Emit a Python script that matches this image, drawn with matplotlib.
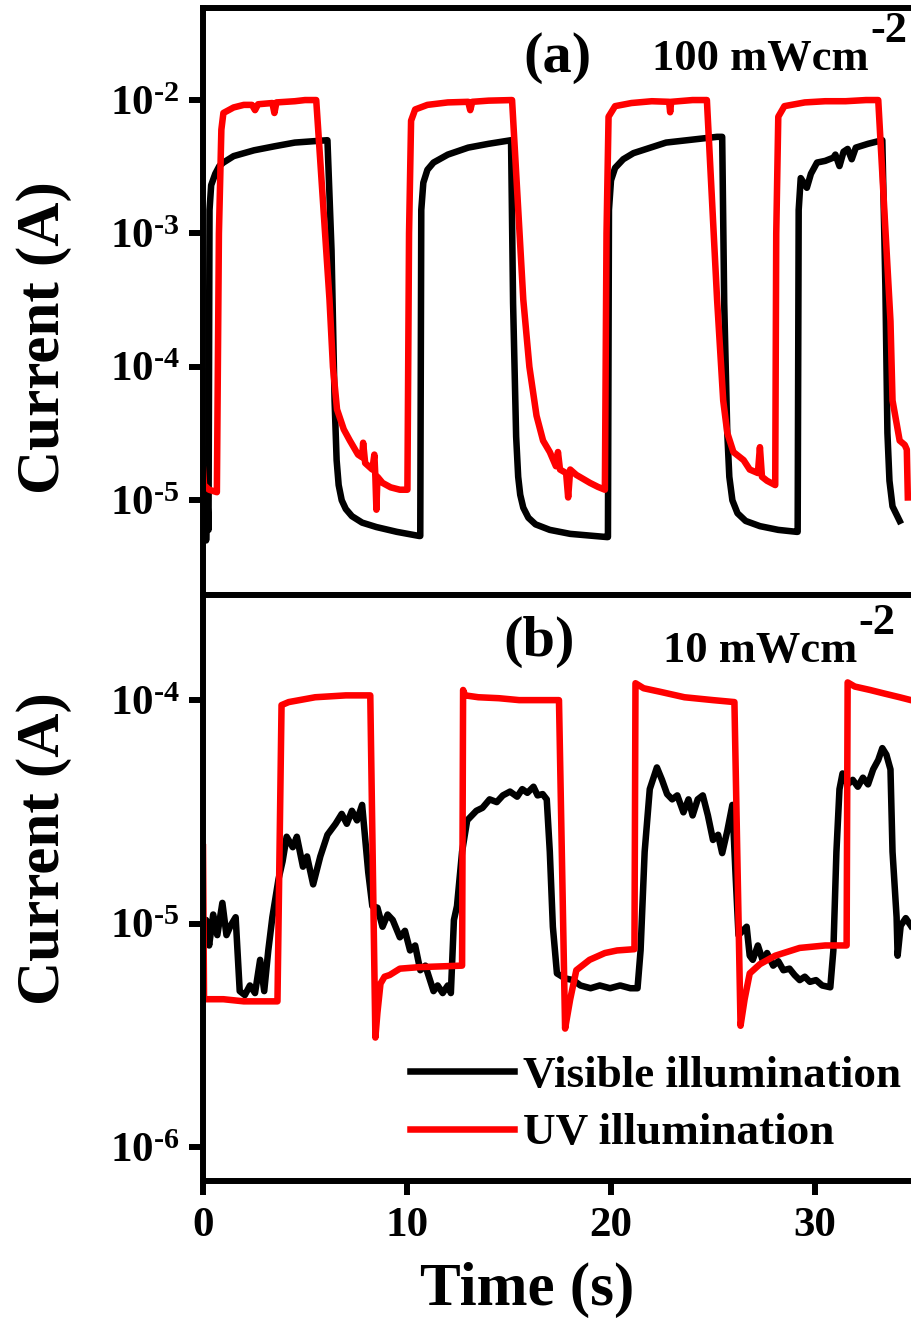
import matplotlib
matplotlib.use("Agg")
import matplotlib.pyplot as plt

# ---- data ----
# panel (a), 100 mW/cm^2
a_vis_t = [0.00, 0.08, 0.15, 0.22, 0.27, 0.32, 0.40, 0.60, 0.80, 1.0, 1.5, 2.5, 3.5, 4.5, 6.10,
           6.30, 6.45, 6.55, 6.65, 6.80, 7.0, 7.3, 7.8, 8.5, 9.5, 10.60,
           10.65, 10.70, 10.80, 11.0, 11.3, 12.0, 13.0, 14.0, 15.10,
           15.20, 15.35, 15.45, 15.55, 15.70, 15.95, 16.3, 17.0, 18.0, 19.80,
           19.85, 19.90, 20.00, 20.20, 20.6, 21.1, 22.7, 25.2, 25.45,
           25.55, 25.70, 25.80, 25.95, 26.2, 26.6, 27.3, 28.2, 29.10,
           29.15, 29.20, 29.30, 29.6, 29.8, 30.1, 30.5, 30.9, 31.0, 31.2, 31.4, 31.6, 31.8, 32.0, 32.6, 33.3,
           33.45, 33.55, 33.65, 33.8, 34.15]
a_vis_i = [6e-6, 1.5e-5, 5e-6, 1.0e-5, 6e-6, 1.5e-3, 2.3e-3, 2.8e-3, 3.2e-3, 3.4e-3, 3.8e-3, 4.2e-3, 4.5e-3, 4.8e-3, 5.0e-3,
           7.5e-4, 5.6e-5, 2.0e-5, 1.3e-5, 1.0e-5, 8.6e-6, 7.6e-6, 6.8e-6, 6.3e-6, 5.8e-6, 5.4e-6,
           5.4e-6, 1.5e-3, 2.4e-3, 3.0e-3, 3.4e-3, 3.9e-3, 4.4e-3, 4.7e-3, 5.0e-3,
           3.0e-4, 3.0e-5, 1.5e-5, 1.1e-5, 8.8e-6, 7.4e-6, 6.6e-6, 6.0e-6, 5.6e-6, 5.3e-6,
           5.3e-6, 1.5e-3, 2.5e-3, 3.1e-3, 3.6e-3, 4.0e-3, 4.8e-3, 5.3e-3, 5.3e-3,
           3.0e-4, 3.2e-5, 1.5e-5, 1.0e-5, 8.0e-6, 7.0e-6, 6.4e-6, 6.0e-6, 5.8e-6,
           5.8e-6, 1.5e-3, 2.6e-3, 2.2e-3, 2.8e-3, 3.4e-3, 3.5e-3, 3.7e-3, 3.9e-3, 3.2e-3, 4.1e-3, 4.3e-3, 3.6e-3, 4.4e-3, 4.7e-3, 5.0e-3,
           4.0e-4, 3.2e-5, 1.4e-5, 9e-6, 7e-6]

a_uv_t = [0.00, 0.05, 0.30, 0.68,
          0.78, 0.90, 1.0, 1.5, 2.0, 2.4, 2.55, 2.7, 3.4, 3.5, 3.6, 4.5, 5.0, 5.55,
          6.20, 6.37, 6.57, 6.9, 7.2, 7.6, 7.8, 7.85, 7.95, 8.3, 8.4, 8.45, 8.5, 8.55, 8.8, 9.2, 9.65, 10.02,
          10.10, 10.20, 10.4, 11.0, 12.0, 13.0, 13.1, 13.2, 14.0, 15.15,
          15.70, 16.0, 16.35, 16.67, 17.0, 17.3, 17.4, 17.5, 17.8, 17.9, 18.0, 18.3, 18.97, 19.36, 19.70,
          19.78, 19.88, 20.2, 21.0, 22.0, 22.85, 22.9, 22.95, 24.0, 24.70,
          25.2, 25.5, 25.7, 26.0, 26.5, 26.8, 27.2, 27.3, 27.4, 27.65, 28.05,
          28.10, 28.20, 28.5, 29.5, 30.5, 31.5, 32.5, 33.10,
          33.70, 33.80, 34.15, 34.4, 34.5, 34.55]
a_uv_i = [1.7e-5, 1.3e-5, 1.2e-5, 1.15e-5,
          1.0e-3, 6.0e-3, 8.0e-3, 8.8e-3, 9.2e-3, 9.2e-3, 8.4e-3, 9.3e-3, 9.5e-3, 8.0e-3, 9.6e-3, 9.8e-3, 1.0e-2, 1.0e-2,
          3.2e-4, 1.0e-4, 4.8e-5, 3.4e-5, 2.8e-5, 2.2e-5, 2.1e-5, 2.7e-5, 1.9e-5, 1.7e-5, 2.2e-5, 1.5e-5, 8.5e-6, 1.5e-5, 1.35e-5, 1.25e-5, 1.2e-5, 1.2e-5,
          1.0e-3, 7.0e-3, 8.5e-3, 9.2e-3, 9.6e-3, 9.7e-3, 8.4e-3, 9.7e-3, 9.9e-3, 1.0e-2,
          3.2e-4, 1.0e-4, 4.3e-5, 2.8e-5, 2.3e-5, 1.8e-5, 2.3e-5, 1.7e-5, 1.6e-5, 1.05e-5, 1.7e-5, 1.55e-5, 1.35e-5, 1.26e-5, 1.2e-5,
          1.0e-3, 7.5e-3, 9.0e-3, 9.5e-3, 9.8e-3, 9.7e-3, 8.1e-3, 9.7e-3, 1.0e-2, 1.0e-2,
          3.2e-4, 5.6e-5, 3.2e-5, 2.3e-5, 2.0e-5, 1.7e-5, 1.6e-5, 2.5e-5, 1.5e-5, 1.4e-5, 1.3e-5,
          1.0e-3, 7.5e-3, 9.0e-3, 9.6e-3, 9.8e-3, 9.8e-3, 1.0e-2, 1.0e-2,
          2.2e-4, 5.6e-5, 2.8e-5, 2.6e-5, 2.4e-5, 1.05e-5]

# panel (b), 10 mW/cm^2
b_vis_t = [0.00, 0.15, 0.30, 0.50, 0.70, 0.95, 1.15, 1.35, 1.60, 1.80, 2.05, 2.30, 2.55, 2.80, 3.00, 3.20, 3.40,
           3.70, 3.90, 4.10, 4.40, 4.60, 4.90, 5.10, 5.40, 5.75, 6.10, 6.50, 6.80, 7.05, 7.30, 7.55, 7.80,
           8.10, 8.30, 8.55, 8.80, 9.05, 9.30, 9.65, 9.90, 10.15, 10.40, 10.65, 10.90, 11.30, 11.50, 11.75, 12.00, 12.15,
           12.30, 12.45, 12.70, 12.95, 13.40, 13.70, 14.05, 14.40, 14.70, 15.05, 15.40, 15.65, 15.90, 16.20, 16.40, 16.65, 16.85,
           17.00, 17.15, 17.35, 17.75, 18.15, 18.50, 19.00, 19.45, 19.95, 20.45, 20.95, 21.30,
           21.45, 21.65, 21.90, 22.25, 22.50, 22.75, 23.00, 23.25, 23.55, 23.80, 24.00, 24.25, 24.50, 24.75, 25.00, 25.25, 25.45, 25.70, 25.95,
           26.10, 26.25, 26.65, 26.80, 26.95, 27.20, 27.45, 27.65, 27.95, 28.20, 28.45, 28.75, 29.00, 29.25, 29.50, 29.75, 30.05, 30.35, 30.75,
           30.90, 31.05, 31.20, 31.35, 31.60, 31.85, 32.10, 32.35, 32.60, 32.85, 33.10, 33.30, 33.50, 33.70,
           33.80, 34.00, 34.05, 34.20, 34.45, 34.70]
b_vis_i = [8.5e-6, 1.04e-5, 8.0e-6, 1.1e-5, 8.9e-6, 1.24e-5, 8.9e-6, 9.8e-6, 1.07e-5, 5.0e-6, 4.8e-6, 5.3e-6, 4.9e-6, 6.9e-6, 5.0e-6, 7.6e-6, 1.07e-5,
           1.58e-5, 1.9e-5, 2.45e-5, 2.2e-5, 2.45e-5, 1.8e-5, 2.0e-5, 1.5e-5, 2.0e-5, 2.5e-5, 2.8e-5, 3.1e-5, 2.8e-5, 3.2e-5, 2.9e-5, 3.4e-5,
           1.7e-5, 1.2e-5, 1.18e-5, 9.7e-6, 1.1e-5, 1.04e-5, 8.7e-6, 9.3e-6, 7.6e-6, 8.0e-6, 6.2e-6, 6.5e-6, 5.0e-6, 5.3e-6, 4.9e-6, 5.3e-6, 4.9e-6,
           1.04e-5, 1.2e-5, 2.1e-5, 2.9e-5, 3.2e-5, 3.3e-5, 3.6e-5, 3.5e-5, 3.75e-5, 3.9e-5, 3.7e-5, 4.0e-5, 3.85e-5, 4.1e-5, 3.75e-5, 3.8e-5, 3.6e-5,
           2.1e-5, 9.7e-6, 6.0e-6, 5.7e-6, 5.6e-6, 5.3e-6, 5.15e-6, 5.3e-6, 5.15e-6, 5.3e-6, 5.15e-6, 5.15e-6,
           7.6e-6, 2.1e-5, 4.0e-5, 5.0e-5, 4.4e-5, 3.8e-5, 3.6e-5, 3.75e-5, 3.15e-5, 3.6e-5, 3.05e-5, 3.6e-5, 3.75e-5, 3.05e-5, 2.37e-5, 2.5e-5, 2.07e-5, 2.6e-5, 3.4e-5,
           1.7e-5, 8.9e-6, 9.7e-6, 7.2e-6, 6.9e-6, 8.0e-6, 6.8e-6, 7.4e-6, 6.5e-6, 6.8e-6, 6.2e-6, 6.3e-6, 5.9e-6, 5.6e-6, 5.8e-6, 5.5e-6, 5.6e-6, 5.3e-6, 5.2e-6,
           7.6e-6, 2.1e-5, 4.0e-5, 4.7e-5, 4.2e-5, 4.4e-5, 4.1e-5, 4.5e-5, 4.2e-5, 4.9e-5, 5.4e-5, 6.1e-5, 5.7e-5, 4.9e-5,
           2.1e-5, 1.07e-5, 7.2e-6, 9.8e-6, 1.06e-5, 9.8e-6]

b_uv_t = [0.00, 0.05, 1.0, 2.0, 3.65,
          3.85, 4.2, 5.5, 7.0, 8.20,
          8.45, 8.55, 8.70, 8.90, 9.15, 9.65, 10.6, 12.70,
          12.75, 12.85, 13.5, 14.5, 15.5, 17.45,
          17.75, 18.00, 18.30, 18.95, 19.70, 20.30, 21.15,
          21.20, 21.60, 22.40, 23.60, 25.00, 26.05,
          26.35, 26.55, 26.80, 27.30, 28.05, 29.25, 30.50, 31.55,
          31.60, 31.95, 32.70, 33.40, 34.15, 34.70]
b_uv_i = [2.2e-5, 4.6e-6, 4.6e-6, 4.5e-6, 4.5e-6,
          9.5e-5, 9.8e-5, 1.03e-4, 1.05e-4, 1.05e-4,
          3.1e-6, 4.0e-6, 5.4e-6, 5.8e-6, 5.9e-6, 6.3e-6, 6.4e-6, 6.5e-6,
          1.11e-4, 1.05e-4, 1.03e-4, 1.02e-4, 1.0e-4, 1.0e-4,
          3.4e-6, 4.6e-6, 6.2e-6, 6.9e-6, 7.4e-6, 7.6e-6, 7.7e-6,
          1.19e-4, 1.13e-4, 1.09e-4, 1.03e-4, 1.0e-4, 9.8e-5,
          3.5e-6, 4.6e-6, 6.0e-6, 6.6e-6, 7.2e-6, 7.8e-6, 8.0e-6, 8.0e-6,
          1.2e-4, 1.15e-4, 1.11e-4, 1.07e-4, 1.03e-4, 1.0e-4]

a_yticks = [1e-5, 1e-4, 1e-3, 1e-2]
a_yticklabels = [r'$10^{\text{-}5}$', r'$10^{\text{-}4}$', r'$10^{\text{-}3}$', r'$10^{\text{-}2}$']
b_yticks = [1e-6, 1e-5, 1e-4]
b_yticklabels = [r'$10^{\text{-}6}$', r'$10^{\text{-}5}$', r'$10^{\text{-}4}$']
xticks = [0, 10, 20, 30]
xticklabels = ['0', '10', '20', '30']

plt.rcParams['font.family'] = ['Liberation Serif', 'DejaVu Serif']
plt.rcParams['font.weight'] = 'bold'
plt.rcParams['mathtext.fontset'] = 'custom'
plt.rcParams['mathtext.rm'] = 'Liberation Serif:bold'
plt.rcParams['mathtext.it'] = 'Liberation Serif:bold'
plt.rcParams['mathtext.bf'] = 'Liberation Serif:bold'
plt.rcParams['mathtext.default'] = 'rm'

W, H = 911, 1320
fig = plt.figure(figsize=(W / 100, H / 100), dpi=100)
left = 203 / W
width = (W - 203) / W
ax_a = fig.add_axes([left, 1 - 595 / H, width, (595 - 8) / H])
ax_b = fig.add_axes([left, 1 - 1181 / H, width, (1181 - 595) / H])

lw = 4.7
ax_a.plot(a_vis_t, a_vis_i, color='black', lw=lw, solid_joinstyle='round')
ax_a.plot(a_uv_t, a_uv_i, color='#ff0000', lw=lw, solid_joinstyle='round')
ax_b.plot(b_vis_t, b_vis_i, color='black', lw=lw, solid_joinstyle='round', label='Visible illumination')
ax_b.plot(b_uv_t, b_uv_i, color='#ff0000', lw=lw, solid_joinstyle='round', label='UV illumination')

for ax in (ax_a, ax_b):
    ax.set_yscale('log')
    ax.set_xlim(0, (W - 203) / 20.4)
    ax.spines['right'].set_visible(False)
    for s in ('left', 'top', 'bottom'):
        ax.spines[s].set_linewidth(4.3)
    ax.minorticks_off()
    ax.tick_params(axis='both', which='major', direction='out', length=10, width=4.3,
                   labelsize=31, pad=7)
    ax.tick_params(axis='y', right=False)
    ax.set_ylabel('Current (A)', fontsize=44, fontweight='bold')

ax_a.set_ylim(10 ** -5.71, 10 ** -1.31)
ax_a.set_yticks(a_yticks, labels=a_yticklabels)
ax_a.tick_params(axis='x', bottom=False, labelbottom=False)
ax_a.yaxis.set_label_coords(-0.185, 0.438)

ax_b.set_ylim(10 ** -6.15, 10 ** -3.53)
ax_b.set_yticks(b_yticks, labels=b_yticklabels)
ax_b.set_xticks(xticks, labels=xticklabels)
ax_b.tick_params(axis='x', pad=9)
ax_b.yaxis.set_label_coords(-0.185, 0.568)
ax_b.set_xlabel('Time (s)', fontsize=44, fontweight='bold', va='top')
ax_b.xaxis.set_label_coords(0.458, -0.138)

# panel annotations
ax_a.text(0.50, 0.915, '(a)', transform=ax_a.transAxes, fontsize=42,
          fontweight='bold', ha='center', va='center')
t1 = ax_a.text(0.634, 0.894, '100 mWcm', transform=ax_a.transAxes, fontsize=32,
               fontweight='bold', ha='left', va='baseline')
ax_a.annotate('-2', xy=(1, 1), xycoords=t1, xytext=(1, -2), textcoords='offset points',
              fontsize=32, fontweight='bold', ha='left', va='baseline')

ax_b.text(0.475, 0.92, '(b)', transform=ax_b.transAxes, fontsize=42,
          fontweight='bold', ha='center', va='center')
t2 = ax_b.text(0.65, 0.886, '10 mWcm', transform=ax_b.transAxes, fontsize=32,
               fontweight='bold', ha='left', va='baseline')
ax_b.annotate('-2', xy=(1, 1), xycoords=t2, xytext=(1, -2), textcoords='offset points',
              fontsize=32, fontweight='bold', ha='left', va='baseline')

ax_b.legend(loc='center left', bbox_to_anchor=(0.292, 0.131), frameon=False,
            borderpad=0, borderaxespad=0, handlelength=2.3, handletextpad=0.22,
            labelspacing=0.38, prop={'size': 32.5, 'weight': 'bold'})

fig.savefig('out.png', dpi=100)
